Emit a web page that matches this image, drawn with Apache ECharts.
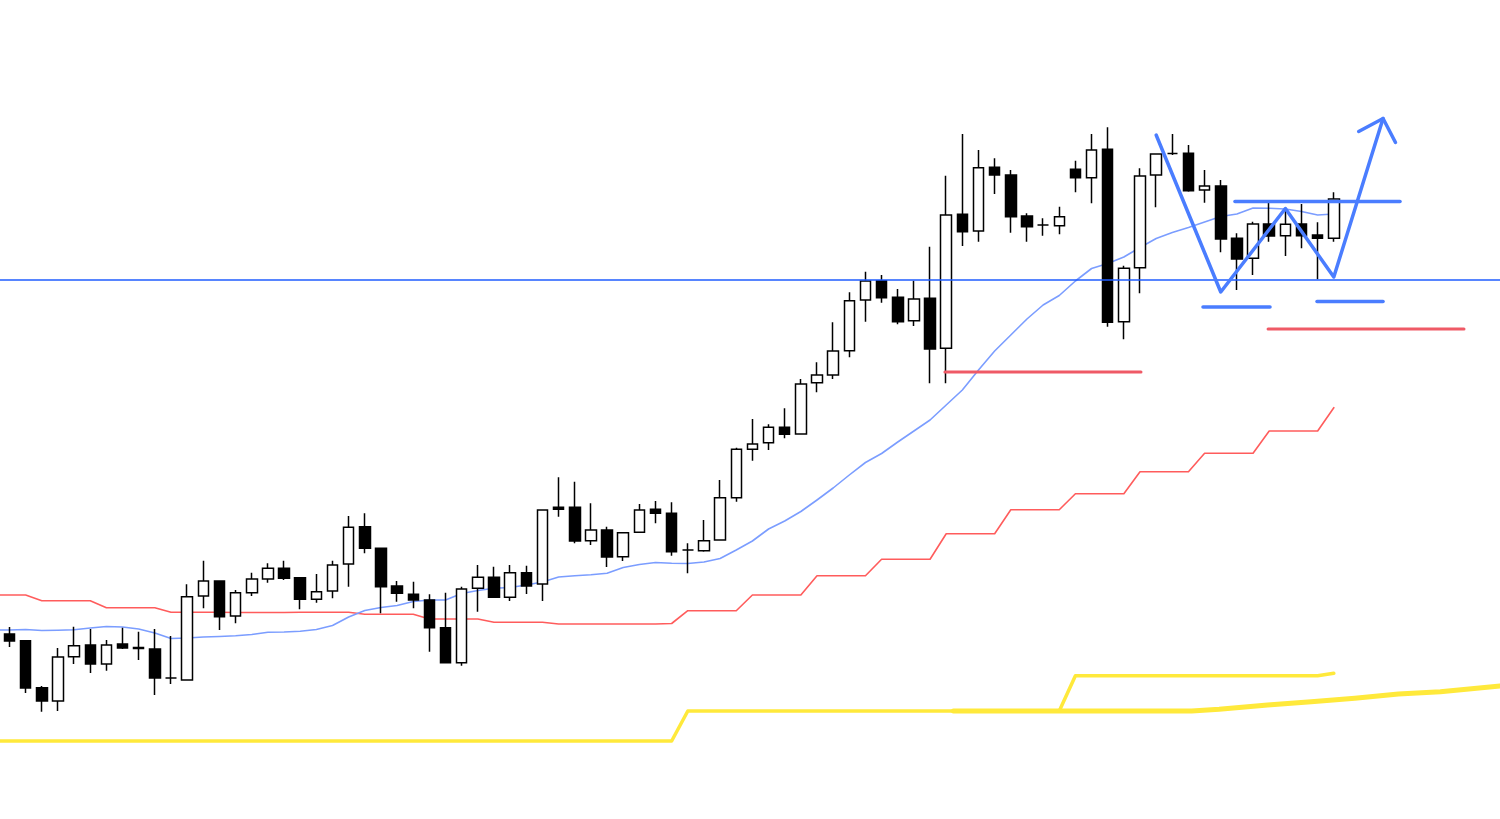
<!DOCTYPE html>
<html>
<head>
<meta charset="utf-8">
<script src="https://cdn.jsdelivr.net/npm/echarts@6/dist/echarts.min.js"></script>
<style>
html,body{margin:0;padding:0;background:#fff;}
#chart{width:1500px;height:819px;}
</style>
</head>
<body>
<div id="chart"></div>
<script>
// ---- Data (prices in chart units) ----
const categories = Array.from({length: 92}, (_, i) => String(i + 1));

const opens  = [185,178.3,131.3,118,162.3,174,155,175,171.5,170,141,139,223,238,203,226.3,240,250.7,241.3,219.7,228,255,292.3,270.7,233,224.7,219,191.3,156.3,230.7,241.7,221.7,246.3,235,311.7,311.7,278.3,289,262.3,286.7,309.7,305.7,269,268.3,279,321.3,369.7,376.3,391.7,385,436.3,444,468.3,519,538.3,521.7,498.3,520.7,470.7,604.7,588,651.7,644,603,594,593.3,649.7,641.3,669.7,497.3,551.3,644,665.5,665.7,629,633,580.7,560.7,595,583.3,595,584,580.7];
const closes = [178,131,118,162,173.3,155,174,171,170.5,141,141,222.3,238,202.3,226.3,240,250.7,240.7,219.7,227.3,254,291.7,270.7,232.3,225.7,219,191.3,156.3,230,241.7,221.7,246.3,233,309,309.7,278,289,262,286.3,309,305.7,267.3,269,278.3,321.3,369.7,375,391.7,384.7,435,444,468,518.3,538,521.3,497.3,520,470,604,587.3,651.3,644,602.3,592.3,594,602.3,641.3,669,496.7,550.7,643,665,665.5,628.3,633,580,560,595,583,594.7,583.3,580.7,620];
const lows   = [172,126,107.3,108,155,146,148.3,170,159,124,135,139,210.7,189,195.7,223,236.3,239,209.7,216.3,220.7,232.3,265.7,205.7,217.3,210.7,167.3,156.3,153.3,207.3,221.7,218,225,218,302.3,275.7,274,252,258,286.7,295.7,263.3,245.7,267.3,279,317.3,358.3,369,380.7,385,426.7,440,461.7,497.3,516.3,494.7,493,435.7,435.7,573,577.3,625,586.3,577.3,583.3,584.7,626.7,615.7,492.3,479.7,525.7,611.7,664,627.3,616.3,566.7,529,544,577.3,563,570.7,539.7,577.3];
const highs  = [192,179,133,171,192.3,190,179,191.3,187.3,190,183,234.7,258.3,238,229,246.3,255.7,258.3,241.3,245,258.3,303,305.7,270.7,238,237.3,224.7,226.3,232.3,254,252.3,254,253.3,309,341.7,337.3,315.7,292.3,286.3,315,318,316.7,275.7,299,339,371.3,400,394.7,410.7,440,456.7,496.7,526.7,547.3,544,530,538.3,572.3,643.3,685,669,660.7,649,605.7,600.7,612.3,658.3,685,691.7,553.3,650.7,665,685,674,649,639,585.7,597.3,616.3,609,615,596.7,626.7];

// Short moving average (thin blue)
const maValues = [189,189.5,188.5,188.7,189.2,191,192.5,192,190,186,180.5,181,182,182.5,183.2,184.5,186.7,187,187.8,189.5,193.5,202,208.5,211.5,213.5,217.5,219,219,225.5,228.5,230.7,231.5,234,237,242,243.2,244.2,245.8,251.5,254.5,256.5,255.7,255.5,257,260.5,269,278,290,298,307.5,319,331,344,356.5,365.5,377,388,399,414,429,449,468,484,500,514,523.5,538,550.5,555.5,562,571.5,580.5,586.5,591.5,597,602.5,605,611,610.7,610,607.5,604,605];
const maLead = 189;

// Higher-timeframe average (red steps)
const redSteps = [224,224,218.3,218.3,218.3,218.3,211.3,211.3,211.3,211.3,206.7,206.7,206.7,206.7,206.5,206.5,206.5,206.5,206.7,206.7,206.7,206.7,204.7,204.7,204.7,204.7,200,200,200,200,196.7,196.7,196.7,196.7,195,195,195,195,195,195,195,195.5,208.3,208.3,208.3,208.3,224,224,224,224,243.3,243.3,243.3,243.3,259.7,259.7,259.7,259.7,285.3,285.3,285.3,285.3,309.3,309.3,309.3,309.3,325.3,325.3,325.3,325.3,347.3,347.3,347.3,347.3,365.7,365.7,365.7,365.7,388,388,388,388,411.3];
const redLead = 224;

// Long-timeframe average (yellow steps)
const yellowSteps = [78,78,78,78,78,78,78,78,78,78,78,78,78,78,78,78,78,78,78,78,78,78,78,78,78,78,78,78,78,78,78,78,78,78,78,78,78,78,78,78,78,78,108,108,108,108,108,108,108,108,108,108,108,108,108,108,108,108,108,108,108,108,108,108,108,108,143.3,143.3,143.3,143.3,143.3,143.3,143.3,143.3,143.3,143.3,143.3,143.3,143.3,143.3,143.3,143.3,145.7];
const yellowLead = 78;

// Long yellow line extending to the right edge: [bar index, price]
const yellowLong = [[58.45,108],[73.2,108],[74.9,109.7],[77.9,114],[80.6,117.3],[83.3,120.7],[86,125],[88.6,127.3],[92.3,133]];

// Drawn annotations: [bar index, price]
const leftEdge = -0.59, rightEdge = 92.3;
const resistanceLevel = 539;
const redZone1 = [[57.92,447],[70.06,447]];
const redZone2 = [[77.93,490],[90.06,490]];
const patternPath = [[71,684],[75,527],[79,610.5],[82,542],[85.05,700.5]];
const arrowHead = [[83.54,687.5],[85.05,700.5],[85.82,676.5]];
const neckLine = [[75.88,617.5],[86.1,617.5]];
const bottomLine1 = [[73.9,512],[78.05,512]];
const bottomLine2 = [[80.96,517.5],[85.05,517.5]];

// ---- Build ----
const candleData = opens.map((o, i) => [o, closes[i], lows[i], highs[i]]);
const idxLine = (arr, lead) => [[leftEdge, lead]].concat(arr.map((v, i) => [i, v]));

function lineSeries(data, color, width, z) {
  return {
    type: 'line', xAxisIndex: 1, yAxisIndex: 1, data: data,
    symbol: 'none', showSymbol: false, clip: false, silent: true,
    lineStyle: {color: color, width: width, cap: 'round', join: 'round'},
    z: z
  };
}

const nCat = categories.length;
const band = 16.15;
const gridLeft = 1.43;
const chart = echarts.init(document.getElementById('chart'), null, {renderer: 'canvas'});
chart.setOption({
  animation: false,
  backgroundColor: '#ffffff',
  grid: [
    {left: gridLeft, top: 0, width: nCat * band, height: 819},
    {left: gridLeft, top: 0, right: 0, height: 819}
  ],
  xAxis: [
    {type: 'category', gridIndex: 0, data: categories, show: false, boundaryGap: true},
    {type: 'value', gridIndex: 1, min: -0.5, max: (1500 - gridLeft) / band - 0.5, show: false}
  ],
  yAxis: [
    {type: 'value', gridIndex: 0, min: 0, max: 819, show: false},
    {type: 'value', gridIndex: 1, min: 0, max: 819, show: false}
  ],
  series: [
    lineSeries(idxLine(yellowSteps, yellowLead), '#ffe93b', 3.5, 1),
    lineSeries(yellowLong, '#ffe93b', 5, 1),
    lineSeries(idxLine(redSteps, redLead), '#ff5c5c', 1.6, 1),
    lineSeries(idxLine(maValues, maLead), '#7b9dff', 1.6, 1),
    {
      type: 'candlestick', xAxisIndex: 0, yAxisIndex: 0, data: candleData,
      barWidth: 11, silent: true, z: 3,
      itemStyle: {color: '#ffffff', color0: '#000000', borderColor: '#000000', borderColor0: '#000000', borderColorDoji: '#000000', borderWidth: 1.5}
    },
    lineSeries([[leftEdge, resistanceLevel], [rightEdge, resistanceLevel]], '#1f5cff', 1.5, 4),
    lineSeries(redZone1, '#ef5a66', 3, 4),
    lineSeries(redZone2, '#ef5a66', 3, 4),
    lineSeries(patternPath, '#4a7dff', 3.5, 5),
    lineSeries(arrowHead, '#4a7dff', 3.5, 5),
    lineSeries(neckLine, '#4a7dff', 3.5, 5),
    lineSeries(bottomLine1, '#4a7dff', 3.5, 5),
    lineSeries(bottomLine2, '#4a7dff', 3.5, 5)
  ]
});
</script>
</body>
</html>
